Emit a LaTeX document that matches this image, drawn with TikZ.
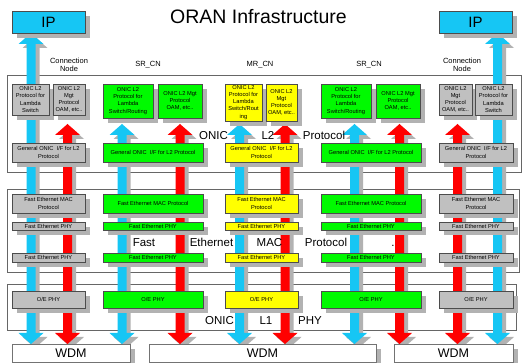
\documentclass[tikz,border=0pt]{standalone}
\usepackage{fontspec}
\setmainfont{Liberation Sans}
\usetikzlibrary{calc,shadows}

\definecolor{boxgray}{RGB}{192,192,192}
\definecolor{boxgreen}{RGB}{0,250,0}
\definecolor{boxyellow}{RGB}{255,255,0}
\definecolor{lightcyan}{RGB}{22,198,244}
\definecolor{arrred}{RGB}{255,0,0}
\definecolor{shadegray}{RGB}{178,178,178}

\pgfdeclarelayer{panels}
\pgfdeclarelayer{arrows}
\pgfsetlayers{panels,arrows,main}

\newcommand\boxfont{\fontsize{5.7}{7.1}\selectfont}

% fat block arrows between two vertically aligned coordinates
\newcommand\arrup[3]{%
  \fill[#3] let \p1=(#1), \p2=(#2) in
    (\x1-4.5pt,\y1) -- (\x1-4.5pt,\y2-11pt) -- (\x1-12.5pt,\y2-11pt) -- (\x1,\y2)
    -- (\x1+12.5pt,\y2-11pt) -- (\x1+4.5pt,\y2-11pt) -- (\x1+4.5pt,\y1) -- cycle;}
\newcommand\arrdn[3]{%
  \fill[#3] let \p1=(#1), \p2=(#2) in
    (\x1-4.5pt,\y1) -- (\x1-4.5pt,\y2+11pt) -- (\x1-12.5pt,\y2+11pt) -- (\x1,\y2)
    -- (\x1+12.5pt,\y2+11pt) -- (\x1+4.5pt,\y2+11pt) -- (\x1+4.5pt,\y1) -- cycle;}

% box given by its corners: [style]{name}{x1}{y1}{x2}{y2}{text}
\newcommand\bx[7][]{%
  \node[cbox,#1,minimum width=#5pt-#3pt,minimum height=#6pt-#4pt]
    (#2) at ({(#3+#5)/2},{(#4+#6)/2}) {#7};}

\tikzset{
  cbox/.style={draw=black!70, line width=0.5pt, inner sep=0pt, align=center,
    font=\boxfont,
    drop shadow={shadow xshift=5pt, shadow yshift=-5pt, fill=shadegray, opacity=1}},
  graybox/.style={fill=boxgray},
  greenbox/.style={fill=boxgreen},
  yellowbox/.style={fill=boxyellow},
  ipbox/.style={fill=lightcyan, font=\fontsize{15}{15}\selectfont},
  wdmbox/.style={fill=white, draw=black!55, font=\fontsize{12.5}{12.5}\selectfont},
  panel/.style={draw=black!60, fill=white, line width=0.7pt},
  biglabel/.style={font=\fontsize{11.5}{11.5}\selectfont, inner sep=0pt, anchor=base},
  hdr/.style={font=\fontsize{7.5}{7.5}\selectfont, inner sep=0pt, anchor=base},
  arrshade/.style={shadegray, transform canvas={xshift=4pt, yshift=-4pt}},
}

\begin{document}
\begin{tikzpicture}[x=1pt, y=-1pt]
\useasboundingbox (0,0) rectangle (523,363);

% title and column headings
\node[font=\fontsize{19.5}{19.5}\selectfont, inner sep=0pt, anchor=base] (title) at (258.5,24) {ORAN Infrastructure};
\node[hdr] (hcn1) at (69,63.5) {Connection};
\node[hdr] (hcn1b) at (69,72) {Node};
\node[hdr] (hsr1) at (148,67) {SR\_CN};
\node[hdr] (hmr) at (260,67) {MR\_CN};
\node[hdr] (hsr2) at (369,67) {SR\_CN};
\node[hdr] (hcn2) at (462,63.5) {Connection};
\node[hdr] (hcn2b) at (462,72) {Node};

% layer panels
\begin{pgfonlayer}{panels}
  \draw[panel] (7,75) rectangle (521,172);
  \draw[panel] (7,189) rectangle (519,272);
  \draw[panel] (7,284) rectangle (516,330);
\end{pgfonlayer}

% IP and WDM end boxes
\bx[ipbox]{ipL}{12}{11}{85}{33}{IP}
\bx[ipbox]{ipR}{439}{11}{512}{33}{IP}
\bx[wdmbox]{wdmL}{12}{344}{130}{362}{WDM}
\bx[wdmbox]{wdmM}{149}{344}{376}{362}{WDM}
\bx[wdmbox]{wdmR}{394}{344}{513}{362}{WDM}

% arrow end points: name / x / top of the upward arrow
\foreach \k/\xx/\tp in {c1/31/33, r1/67.5/124, c2/122/124, r2/180/124,
                        c3/239.5/124, r3/285/124, c4/354.5/124, r4/399.5/124,
                        r5/457.5/124, c5/497.5/33}{
  \coordinate (\k top) at (\xx,\tp);
  \coordinate (\k mid) at (\xx,236);
  \coordinate (\k bot) at (\xx,344);
}

\begin{pgfonlayer}{arrows}
  \foreach \k in {c1,r1,c2,r2,c3,r3,c4,r4,r5,c5}{
    \arrup{\k mid}{\k top}{arrshade}
    \arrdn{\k mid}{\k bot}{arrshade}
  }
  \foreach \k in {c1,c2,c3,c4,c5}{
    \arrup{\k mid}{\k top}{lightcyan}
    \arrdn{\k mid}{\k bot}{lightcyan}
  }
  \foreach \k in {r1,r2,r3,r4,r5}{
    \arrup{\k mid}{\k top}{arrred}
    \arrdn{\k mid}{\k bot}{arrred}
  }
\end{pgfonlayer}

% layer captions
\node[biglabel] (l2a) at (213.5,140) {ONIC};
\node[biglabel] (l2b) at (268,140) {L2};
\node[biglabel] (l2c) at (324,140) {Protocol};
\node[biglabel] (eta) at (144,247) {Fast};
\node[biglabel] (etb) at (211.5,247) {Ethernet};
\node[biglabel] (etc) at (269.5,247) {MAC};
\node[biglabel] (etd) at (326,247) {Protocol};
\node[biglabel] (ete) at (393,247) {.};
\node[biglabel] (l1a) at (219.5,325) {ONIC};
\node[biglabel] (l1b) at (266,325) {L1};
\node[biglabel] (l1c) at (310,325) {PHY};

% Connection Node (left)
\bx[graybox]{a1}{12}{84}{49}{115}{ONIC L2\\Protocol for\\Lambda\\Switch}
\bx[graybox]{b1}{53}{84}{85}{115}{ONIC L2\\Mgt\\Protocol\\OAM, etc..}
\bx[graybox]{g1}{12}{143}{85}{162}{General ONIC\ \ I/F for L2\\Protocol}
\bx[graybox]{m1}{12}{194}{85}{213}{Fast Ethernet MAC\\Protocol}
\bx[graybox]{p1}{12}{222}{85}{230}{Fast Ethernet PHY}
\bx[graybox]{q1}{12}{253}{85}{262}{Fast Ethernet PHY}
\bx[graybox]{o1}{12}{291}{85}{308}{O/E PHY}

% SR_CN (left)
\bx[greenbox]{a2}{103}{84}{153}{118}{ONIC L2\\Protocol for\\Lambda\\Switch/Routing}
\bx[greenbox]{b2}{158}{84}{202}{118}{ONIC L2 Mgt\\Protocol\\OAM, etc..}
\bx[greenbox]{g2}{103}{143}{203}{162}{General ONIC\ \ I/F for L2 Protocol}
\bx[greenbox]{m2}{103}{194}{203}{213}{Fast Ethernet MAC Protocol}
\bx[greenbox]{p2}{103}{222}{203}{230}{Fast Ethernet PHY}
\bx[greenbox]{q2}{103}{253}{203}{262}{Fast Ethernet PHY}
\bx[greenbox]{o2}{103}{291}{203}{308}{O/E PHY}

% MR_CN
\bx[yellowbox]{a3}{225}{84}{262}{121}{ONIC L2\\Protocol for\\Lambda\\Switch/Rout\\ing}
\bx[yellowbox]{b3}{266}{84}{297}{121}{ONIC L2\\Mgt\\Protocol\\OAM, etc..}
\bx[yellowbox]{g3}{225}{143}{298}{162}{General ONIC\ \ I/F for L2\\Protocol}
\bx[yellowbox]{m3}{225}{194}{298}{213}{Fast Ethernet MAC\\Protocol}
\bx[yellowbox]{p3}{225}{222}{298}{230}{Fast Ethernet PHY}
\bx[yellowbox]{q3}{225}{253}{298}{262}{Fast Ethernet PHY}
\bx[yellowbox]{o3}{225}{291}{298}{308}{O/E PHY}

% SR_CN (right)
\bx[greenbox]{a4}{321}{84}{371}{118}{ONIC L2\\Protocol for\\Lambda\\Switch/Routing}
\bx[greenbox]{b4}{376}{84}{420}{118}{ONIC L2 Mgt\\Protocol\\OAM, etc..}
\bx[greenbox]{g4}{321}{143}{421}{162}{General ONIC\ \ I/F for L2 Protocol}
\bx[greenbox]{m4}{321}{194}{421}{213}{Fast Ethernet MAC Protocol}
\bx[greenbox]{p4}{321}{222}{421}{230}{Fast Ethernet PHY}
\bx[greenbox]{q4}{321}{253}{421}{262}{Fast Ethernet PHY}
\bx[greenbox]{o4}{321}{291}{421}{308}{O/E PHY}

% Connection Node (right)
\bx[graybox]{b5}{439}{84}{472}{115}{ONIC L2\\Mgt\\Protocol\\OAM, etc..}
\bx[graybox]{a5}{475}{84}{512}{115}{ONIC L2\\Protocol for\\Lambda\\Switch}
\bx[graybox]{g5}{439}{143}{513}{162}{General ONIC\ \ I/F for L2\\Protocol}
\bx[graybox]{m5}{439}{194}{513}{213}{Fast Ethernet MAC\\Protocol}
\bx[graybox]{p5}{439}{222}{513}{230}{Fast Ethernet PHY}
\bx[graybox]{q5}{439}{253}{513}{262}{Fast Ethernet PHY}
\bx[graybox]{o5}{439}{291}{513}{308}{O/E PHY}
\end{tikzpicture}
\end{document}
